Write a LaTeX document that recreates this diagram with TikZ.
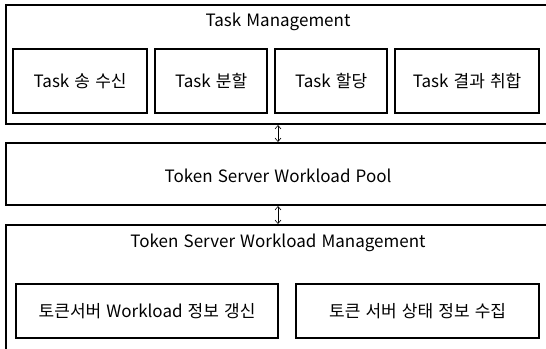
\documentclass[tikz,border=0pt]{standalone}
\usepackage{fontspec}
\setmainfont{Noto Sans CJK KR}[WordSpace=1.35]
\usetikzlibrary{arrows.meta}
\begin{document}
\begin{tikzpicture}[x=1pt,y=-1pt,
  frame/.style={draw=black,line width=2.2pt},
  cell/.style={draw=black,line width=2.2pt},
  lbl/.style={font=\fontsize{17}{20}\selectfont,inner sep=0pt},
  link/.style={line width=0.6pt,{Straight Barb[length=3.5pt,width=6pt]}-{Straight Barb[length=3.5pt,width=6pt]}}]
\useasboundingbox (0,0) rectangle (546,348);
\begin{scope}
\clip (0,0) rectangle (546,348);
% task management block
\draw[frame] (6,5) rectangle (560,124);
\node[lbl] (tm) at (278,22) {Task Management};
\node[cell,minimum width=134pt,minimum height=64pt,anchor=north west,lbl] (t1) at (12,48) {Task 송 수신};
\node[cell,minimum width=112pt,minimum height=64pt,anchor=north west,lbl] (t2) at (154,48) {Task 분할};
\node[cell,minimum width=112pt,minimum height=64pt,anchor=north west,lbl] (t3) at (274,48) {Task 할당};
\node[cell,minimum width=144pt,minimum height=64pt,anchor=north west,lbl] (t4) at (394,48) {Task 결과 취합};
% workload pool
\draw[frame] (6,143) rectangle (560,205);
\node[lbl] (pool) at (278,176) {Token Server Workload Pool};
% workload management block
\draw[frame] (6,225) rectangle (560,360);
\node[lbl] (wm) at (278,243) {Token Server Workload Management};
\node[cell,minimum width=262pt,minimum height=54pt,anchor=north west,lbl] (w1) at (15,283) {토큰서버 Workload 정보 갱신};
\node[cell,minimum width=243pt,minimum height=54pt,anchor=north west,lbl] (w2) at (295,283) {토큰 서버 상태 정보 수집};
% links between the blocks
\coordinate (a1) at (278,125);
\coordinate (a2) at (278,142);
\coordinate (b1) at (278,206);
\coordinate (b2) at (278,224);
\draw[link] (a1) -- (a2);
\draw[link] (b1) -- (b2);
\end{scope}
\end{tikzpicture}
\end{document}
